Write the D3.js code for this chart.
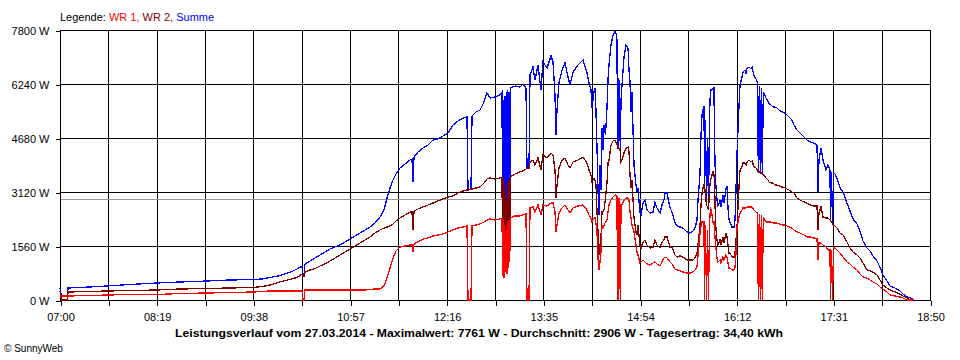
<!DOCTYPE html>
<html><head><meta charset="utf-8">
<script src="https://cdn.jsdelivr.net/npm/d3@7"></script>
<style>
body{margin:0;background:#fff}
svg{display:block}
text{font-family:"Liberation Sans",Arial,sans-serif}
</style>
</head><body>
<svg id="c" width="960" height="360"></svg>
<script>
const times=[
"07:00:00","07:01:13","07:06:07","07:06:32","07:24:29","07:38:21","07:57:08","08:19:10","08:37:56","08:59:58",
"09:18:44","09:37:30","09:44:51","09:51:23","09:57:55","10:03:37","10:09:20","10:14:14","10:17:30","10:18:18",
"10:19:08","10:19:56","10:24:01","10:28:06","10:32:11","10:36:16","10:40:21","10:44:26","10:48:30","10:52:35",
"10:56:40","11:00:45","11:04:50","11:08:55","11:12:59","11:17:04","11:21:09","11:24:25","11:26:52","11:29:19",
"11:31:46","11:34:12","11:37:28","11:41:33","11:45:38","11:47:16","11:48:05","11:48:54","11:52:10","11:56:14",
"12:00:19","12:04:24","12:08:29","12:12:34","12:16:39","12:20:43","12:24:48","12:28:53","12:32:09","12:32:58",
"12:35:25","12:36:14","12:39:30","12:42:46","12:46:01","12:48:28","12:50:55","12:55:00","12:59:05","13:00:43",
"13:01:17","13:01:51","13:02:25","13:02:59","13:03:34","13:04:08","13:04:43","13:05:17","13:05:51","13:06:25",
"13:06:59","13:07:34","13:11:19","13:15:24","13:17:51","13:20:18","13:21:07","13:22:45","13:23:34","13:26:01",
"13:27:38","13:30:05","13:32:32","13:34:10","13:37:26","13:40:42","13:42:20","13:43:58","13:44:47","13:45:36",
"13:47:14","13:49:41","13:52:08","13:54:34","13:56:13","13:58:39","14:02:44","14:06:49","14:10:05","14:11:43",
"14:13:21","14:14:10","14:15:48","14:16:37","14:17:26","14:18:15","14:19:04","14:19:52","14:20:41","14:21:30",
"14:22:19","14:23:08","14:23:58","14:25:11","14:26:24","14:27:13","14:28:02","14:29:40","14:31:18","14:32:56",
"14:33:45","14:34:34","14:34:58","14:35:23","14:36:02","14:36:36","14:37:15","14:37:50","14:38:39","14:40:17",
"14:41:55","14:43:33","14:44:22","14:45:10","14:45:59","14:46:48","14:48:26","14:50:04","14:50:53","14:51:42",
"14:53:20","14:54:09","14:55:47","14:57:25","14:59:03","15:01:30","15:03:56","15:05:34","15:07:12","15:09:39",
"15:11:17","15:12:55","15:13:44","15:15:22","15:17:49","15:19:27","15:21:54","15:23:32","15:25:59","15:28:26",
"15:31:41","15:34:08","15:36:35","15:38:13","15:39:51","15:40:40","15:42:18","15:43:07","15:43:56","15:44:45",
"15:45:34","15:45:58","15:46:47","15:47:36","15:48:25","15:49:14","15:50:03","15:50:52","15:52:05","15:52:55",
"15:53:43","15:54:08","15:54:57","15:56:10","15:56:59","15:58:37","15:59:26","16:01:04","16:01:53","16:03:31",
"16:04:20","16:05:09","16:05:58","16:06:47","16:08:25","16:10:03","16:10:52","16:11:41","16:12:30","16:14:08",
"16:14:56","16:16:35","16:17:23","16:19:01","16:19:50","16:20:39","16:22:17","16:23:55","16:24:44","16:26:22",
"16:28:00","16:29:13","16:29:53","16:30:41","16:31:31","16:32:20","16:33:08","16:33:58","16:36:10","16:37:47",
"16:38:37","16:40:14","16:41:52","16:43:31","16:45:08","16:46:46","16:49:13","16:51:40","16:54:56","16:57:23",
"16:59:01","17:01:28","17:03:55","17:07:10","17:09:37","17:12:04","17:15:20","17:17:47","17:18:36","17:19:25",
"17:21:03","17:22:41","17:25:08","17:26:46","17:28:23","17:28:48","17:29:37","17:30:26","17:31:15","17:32:28",
"17:34:06","17:36:33","17:39:00","17:42:16","17:44:43","17:47:10","17:50:26","17:52:52","17:55:19","17:58:35",
"18:01:02","18:03:29","18:06:45","18:09:12","18:11:38","18:14:55","18:17:22","18:21:26","18:25:31","18:27:58",
"18:31:14","18:33:41","18:36:08","18:36:56"
];
const wr1=[
116,116,116,116,130,144,159,159,188,202,
217,231,246,260,260,260,260,260,260,0,
0,289,289,289,289,289,289,289,289,289,
289,289,289,289,303,318,318,404,636,924,
1213,1416,1531,1560,1589,1589,1387,1618,1676,1762,
1791,1849,1878,1907,1964,2022,2080,2109,2138,0,
0,2138,2167,2196,2253,2311,2340,2311,2340,2369,
693,2311,636,2167,809,2022,751,2253,924,2311,
1098,2369,2427,2427,2456,2484,0,0,2658,2687,
2542,2744,2456,2744,2716,2802,2802,2542,1964,2167,
2513,2658,2744,2600,2513,2658,2716,2744,2600,2456,
2369,2253,2369,2369,2196,1964,1213,867,1098,1387,
2167,2080,2167,2253,2311,2542,2744,2889,2976,3033,
3033,3004,0,2947,0,2947,0,2744,2744,2889,
2947,2947,2889,2542,2369,2167,1964,1589,1387,1300,
1069,1098,1156,1098,1040,1011,1069,1098,1040,982,
1098,1213,1242,1213,1098,1040,896,867,838,809,
780,780,809,867,953,1300,1936,2138,2253,2253,
2253,0,2167,0,2022,0,2167,2687,2456,2253,
2253,2022,1647,1213,1098,1156,1069,1242,1156,1300,
1242,1069,924,924,867,867,924,1358,2109,2398,
2513,2600,2658,2658,2658,2687,2687,2687,2687,2600,
2542,2513,0,2484,0,2456,0,2398,2253,2253,
2253,2253,2224,2224,2224,2196,2167,2167,2109,2080,
2022,1964,1936,1878,1820,1820,1791,1762,1156,1647,
1647,1589,1531,1444,1444,0,1444,0,1502,1502,
1444,1358,1242,1098,1040,953,867,751,664,636,
578,520,462,376,318,231,144,116,87,58,
0,0,0,0
];
const wr2=[
260,0,0,231,246,260,274,289,318,332,
347,361,390,433,506,563,607,664,751,693,
693,809,867,910,982,1040,1127,1213,1300,1387,
1473,1560,1647,1733,1820,1936,2022,2080,2109,2138,
2196,2282,2369,2456,2542,2542,2022,2571,2629,2687,
2744,2802,2860,2918,2976,3004,3091,3149,3178,3178,
3207,3207,3236,3264,3380,3496,3524,3496,3524,3553,
924,3467,809,3322,1098,2889,1213,3409,1444,3467,
1676,3553,3640,3698,3727,3784,3813,3813,3987,4044,
3900,4102,3756,4189,4102,4247,4189,3756,2947,3322,
3813,4044,4102,3900,3813,3987,4044,4131,3958,3756,
3611,3409,3524,3467,3322,2542,1964,1300,1589,1791,
2542,2542,2600,2947,3380,3958,4044,4478,4593,4622,
4564,4478,4449,4391,4391,4333,4333,3987,4044,4247,
4391,4420,4276,3611,3236,3467,2369,1964,1878,2167,
1589,1502,1676,1733,1589,1502,1531,1733,1589,1502,
1676,1733,1820,1820,1531,1531,1300,1242,1271,1242,
1156,1156,1156,1213,1358,1589,2109,2744,3091,3236,
3322,3322,3033,2744,2687,2600,3178,3467,3611,3698,
3611,3467,2224,1733,1589,1733,1589,1820,1647,1936,
1820,1589,1358,1358,1242,1242,1358,1733,2109,3264,
3756,3842,3958,3958,3900,3987,4044,3987,4015,3842,
3813,3756,3698,3698,3669,3669,3640,3611,3524,3467,
3409,3380,3380,3322,3322,3293,3264,3236,3178,3120,
3091,2947,2889,2831,2802,2744,2716,2716,2022,2513,
2687,2398,2369,2369,2311,2282,2253,2196,2167,2138,
2080,1936,1878,1676,1502,1387,1300,1213,1069,867,
838,809,722,578,433,347,289,231,173,116,
58,0,0,0
];
const summe=[
347,116,116,347,376,404,448,491,520,549,
578,592,607,650,693,751,823,910,982,722,
722,1040,1127,1213,1300,1387,1473,1531,1589,1676,
1762,1849,1936,2022,2109,2224,2398,2600,2947,3236,
3467,3640,3813,3929,4044,4073,3409,4131,4276,4391,
4478,4622,4651,4738,4824,5056,5171,5258,5287,3178,
3207,5316,5431,5489,5720,5980,5836,5864,5922,6009,
1387,5778,1213,5893,1589,6009,1733,6067,1733,6009,
1964,6124,6182,6153,6240,6124,3813,3813,6500,6731,
6356,6789,6067,6876,6702,7049,6876,5922,4767,5489,
6269,6644,6847,6442,6211,6587,6789,6933,6558,6269,
6067,5547,6009,6124,5431,4391,3178,2456,3900,3178,
4969,4333,5056,4767,5547,6356,6789,7367,7656,7761,
7713,7511,4449,6413,4391,6356,4333,5778,6211,7020,
7367,7280,6644,6298,5431,6009,3900,3322,3120,3236,
2513,2456,2802,2889,2600,2513,2542,2831,2658,2513,
2744,2889,3091,3091,2658,2542,2224,2138,2109,2080,
1964,1936,1993,2080,2311,2889,3640,4767,5344,5489,
5604,3322,5200,2744,4680,2600,5345,6067,6067,6124,
6124,4622,3467,2889,2716,2860,2687,3033,2802,3207,
3293,2658,2311,2253,2109,2109,2311,3178,4218,5604,
6211,6442,6587,6644,6558,6702,6731,6673,6731,6470,
6385,6269,3698,6182,3669,6124,3640,6009,5836,5749,
5662,5633,5576,5576,5547,5489,5431,5402,5287,5200,
5056,4911,4824,4709,4622,4564,4536,4478,3120,4044,
4391,4044,3756,3900,3756,2282,3698,2196,3669,3640,
3524,3236,3120,2802,2571,2340,2196,1993,1704,1502,
1416,1271,1127,953,722,549,404,347,260,173,
87,58,29,0
];
const xTickLabels=["07:00","08:19","09:38","10:57","12:16","13:35","14:54","16:12","17:31","18:50"];
const yTickValues=[0,1560,3120,4680,6240,7800];
const average=2906;
const legendItems=[{t:"Legende: ",c:"#000"},{t:"WR 1, ",c:"#ff0000"},{t:"WR 2, ",c:"#800000"},{t:"Summe",c:"#0000ff"}];
const titleText="Leistungsverlauf vom 27.03.2014 - Maximalwert: 7761 W - Durchschnitt: 2906 W - Tagesertrag: 34,40 kWh";
const copyText="\u00a9 SunnyWeb";

const parse=d3.timeParse("%H:%M:%S");
const t0=parse("07:00:00"), t1=parse("18:50:00");
const L=60,R=930,T=30,B=300;
const x=d3.scaleTime().domain([t0,t1]).range([L,R]);
const y=d3.scaleLinear().domain([0,7800]).range([B,T]);
const svg=d3.select("#c");
svg.append("rect").attr("width",960).attr("height",360).attr("fill","#fff");

const nTicks=18;
const xTicks=d3.range(nTicks+1).map(i=>new Date(+t0+i*(t1-t0)/nTicks));

// grid
const g=svg.append("g").attr("shape-rendering","crispEdges");
g.selectAll(".vg").data(xTicks).join("line")
 .attr("x1",d=>Math.round(x(d))+0.5).attr("x2",d=>Math.round(x(d))+0.5)
 .attr("y1",T).attr("y2",B).attr("stroke","#000").attr("stroke-width",1);
g.selectAll(".hg").data(yTickValues).join("line")
 .attr("x1",L).attr("x2",R+1).attr("y1",d=>Math.round(y(d))+0.5).attr("y2",d=>Math.round(y(d))+0.5)
 .attr("stroke","#000").attr("stroke-width",1);
// average
g.append("line").attr("x1",L+1).attr("x2",R).attr("y1",Math.round(y(average))+0.5).attr("y2",Math.round(y(average))+0.5)
 .attr("stroke","#999").attr("stroke-width",1);

// axes
const yAxis=d3.axisLeft(y).tickValues(yTickValues).tickSize(5).tickPadding(6).tickFormat(d=>d+" W");
const ya=svg.append("g").attr("transform",`translate(${L+0.5},0.5)`).call(yAxis);
ya.select(".domain").remove();
ya.selectAll("line").attr("stroke","#000").attr("shape-rendering","crispEdges");
ya.selectAll("text").attr("font-size","11px").attr("fill","#000").attr("font-family","Liberation Sans, Arial, sans-serif");

const xAxis=d3.axisBottom(x).tickValues(xTicks).tickSize(5).tickPadding(8)
 .tickFormat((d,i)=> i%2===0 ? xTickLabels[i/2] : "");
const xa=svg.append("g").attr("transform",`translate(0.5,${B+0.5})`).call(xAxis);
xa.select(".domain").remove();
xa.selectAll("line").attr("stroke","#000").attr("shape-rendering","crispEdges");
xa.selectAll("text").attr("font-size","11px").attr("fill","#000").attr("font-family","Liberation Sans, Arial, sans-serif");

// series
const dates=times.map(parse);
const line=d3.line().x((d,i)=>x(dates[i])).y(d=>y(d));
const series=[{v:summe,c:"#0000ff"},{v:wr2,c:"#800000"},{v:wr1,c:"#ff0000"}];
svg.append("g").selectAll("path").data(series).join("path")
 .attr("d",d=>line(d.v)).attr("fill","none").attr("stroke",d=>d.c)
 .attr("stroke-width",1.3).attr("shape-rendering","crispEdges");

// legend
const lg=svg.append("text").attr("x",L).attr("y",21).attr("font-size","11px");
lg.selectAll("tspan").data(legendItems).join("tspan").attr("fill",d=>d.c).text(d=>d.t).attr("xml:space","preserve");
lg.style("white-space","pre");

// title
const tt=svg.append("text").attr("x",479).attr("y",337).attr("text-anchor","middle")
 .attr("font-size","11px").attr("font-weight","bold").attr("fill","#000").text(titleText);
const w=tt.node().getComputedTextLength();
if(Math.abs(w-608)>4) tt.attr("textLength",608).attr("lengthAdjust","spacingAndGlyphs");

svg.append("text").attr("x",4).attr("y",352).attr("font-size","10px").attr("fill","#000").text(copyText);
</script>
</body></html>
